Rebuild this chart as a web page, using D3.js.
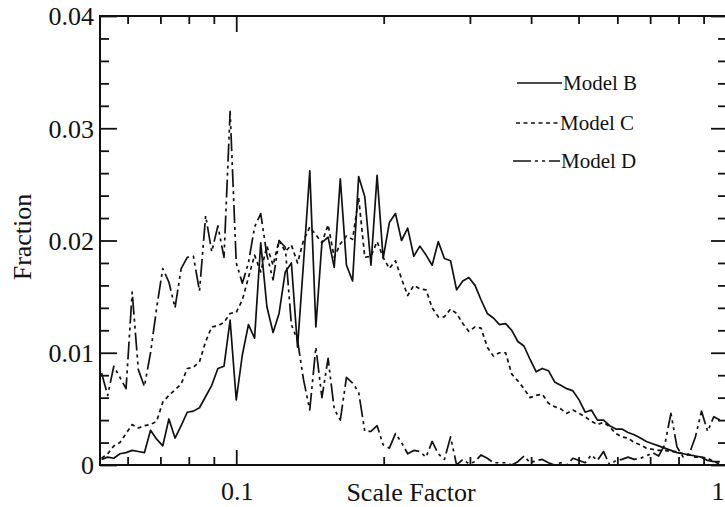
<!DOCTYPE html>
<html>
<head>
<meta charset="utf-8">
<script src="https://cdn.jsdelivr.net/npm/d3@7"></script>
<style>
  html, body { margin: 0; padding: 0; background: #fff; }
  svg { display: block; }
  text { font-family: "Liberation Serif", "Times New Roman", serif; fill: #111; }
</style>
</head>
<body>
<svg id="chart" width="725" height="507"></svg>
<script>
// Bin centres of the scale-factor histogram (log-spaced bins)
const scaleFactor = [
  0.05309, 0.05464, 0.05623, 0.05788, 0.05957, 0.06131,
  0.06310, 0.06494, 0.06684, 0.06879, 0.07079, 0.07286, 0.07499, 0.07718,
  0.07943, 0.08175, 0.08414, 0.08660, 0.08912, 0.09173, 0.09441, 0.09716,
  0.1000, 0.1029, 0.1059, 0.1090, 0.1122, 0.1155, 0.1189, 0.1223,
  0.1259, 0.1296, 0.1334, 0.1372, 0.1413, 0.1454, 0.1496, 0.1540,
  0.1585, 0.1631, 0.1679, 0.1728, 0.1778, 0.1830, 0.1884, 0.1939,
  0.1995, 0.2054, 0.2114, 0.2175, 0.2239, 0.2304, 0.2371, 0.2441,
  0.2512, 0.2585, 0.2661, 0.2739, 0.2818, 0.2901, 0.2985, 0.3073,
  0.3162, 0.3255, 0.3350, 0.3448, 0.3548, 0.3652, 0.3758, 0.3868,
  0.3981, 0.4097, 0.4217, 0.4340, 0.4467, 0.4597, 0.4732, 0.4870,
  0.5012, 0.5158, 0.5309, 0.5464, 0.5623, 0.5788, 0.5957, 0.6131,
  0.6310, 0.6494, 0.6684, 0.6879, 0.7079, 0.7286, 0.7499, 0.7718,
  0.7943, 0.8175, 0.8414, 0.8660, 0.8912, 0.9173, 0.9441, 0.9716
];

// Fraction of objects in each bin
const modelB = [
  0.0005, 0.0007, 0.0006, 0.0010, 0.0011, 0.0013, 0.0012, 0.0011, 0.0031, 0.0023,
  0.0017, 0.0041, 0.0024, 0.0035, 0.0047, 0.0048, 0.0051, 0.0061, 0.0071, 0.0086,
  0.0088, 0.0129, 0.0058, 0.0098, 0.0125, 0.0113, 0.0198, 0.0141, 0.0118, 0.0135,
  0.0172, 0.0180, 0.0105, 0.0180, 0.0262, 0.0123, 0.0198, 0.0203, 0.0176, 0.0255,
  0.0178, 0.0164, 0.0257, 0.0239, 0.0178, 0.0258, 0.0184, 0.0216, 0.0224, 0.0200,
  0.0211, 0.0186, 0.0195, 0.0187, 0.0178, 0.0199, 0.0184, 0.0182, 0.0156, 0.0164,
  0.0167, 0.0160, 0.0147, 0.0135, 0.0131, 0.0125, 0.0126, 0.0120, 0.0110, 0.0106,
  0.0094, 0.0083, 0.0086, 0.0084, 0.0074, 0.0071, 0.0068, 0.0066, 0.0058, 0.0047,
  0.0049, 0.0040, 0.0040, 0.0035, 0.0032, 0.0032, 0.0029, 0.0027, 0.0024, 0.0021,
  0.0019, 0.0017, 0.0015, 0.0013, 0.0011, 0.0010, 0.0009, 0.0008, 0.0007, 0.0004,
  0.0003, 0.0003
];

const modelC = [
  0.0006, 0.0010, 0.0017, 0.0020, 0.0028, 0.0036, 0.0033, 0.0035, 0.0036, 0.0039,
  0.0056, 0.0062, 0.0067, 0.0072, 0.0086, 0.0087, 0.0092, 0.0110, 0.0123, 0.0124,
  0.0127, 0.0135, 0.0136, 0.0147, 0.0167, 0.0187, 0.0172, 0.0195, 0.0178, 0.0200,
  0.0190, 0.0196, 0.0180, 0.0200, 0.0212, 0.0205, 0.0198, 0.0214, 0.0185, 0.0197,
  0.0204, 0.0201, 0.0238, 0.0185, 0.0186, 0.0199, 0.0185, 0.0175, 0.0182, 0.0166,
  0.0151, 0.0160, 0.0157, 0.0156, 0.0140, 0.0132, 0.0132, 0.0139, 0.0135, 0.0126,
  0.0119, 0.0123, 0.0122, 0.0105, 0.0097, 0.0100, 0.0100, 0.0081, 0.0075, 0.0068,
  0.0060, 0.0062, 0.0063, 0.0055, 0.0052, 0.0050, 0.0046, 0.0049, 0.0046, 0.0043,
  0.0039, 0.0036, 0.0038, 0.0034, 0.0028, 0.0025, 0.0024, 0.0020, 0.0018, 0.0015,
  0.0014, 0.0013, 0.0013, 0.0012, 0.0012, 0.0010, 0.0009, 0.0007, 0.0007, 0.0006,
  0.0003, 0.0001
];

const modelD = [
  0.0082, 0.0062, 0.0088, 0.0078, 0.0068, 0.0154, 0.0085, 0.0070, 0.0100, 0.0140,
  0.0175, 0.0163, 0.0140, 0.0175, 0.0185, 0.0186, 0.0155, 0.0222, 0.0190, 0.0213,
  0.0185, 0.0315, 0.0180, 0.0162, 0.0180, 0.0212, 0.0224, 0.0187, 0.0165, 0.0200,
  0.0194, 0.0125, 0.0111, 0.0076, 0.0049, 0.0105, 0.0060, 0.0095, 0.0050, 0.0040,
  0.0078, 0.0073, 0.0065, 0.0030, 0.0030, 0.0035, 0.0018, 0.0015, 0.0028, 0.0020,
  0.0010, 0.0013, 0.0012, 0.0007, 0.0021, 0.0010, 0.0005, 0.0025, 0.0000, 0.0005,
  0.0001, 0.0003, 0.0009, 0.0006, 0.0002, 0.0002, 0.0002, 0.0000, 0.0003, 0.0008,
  0.0002, 0.0004, 0.0005, 0.0002, 0.0000, 0.0002, 0.0000, 0.0006, 0.0004, 0.0002,
  0.0009, 0.0004, 0.0012, 0.0000, 0.0004, 0.0005, 0.0007, 0.0005, 0.0006, 0.0008,
  0.0011, 0.0008, 0.0018, 0.0046, 0.0016, 0.0007, 0.0010, 0.0025, 0.0048, 0.0030,
  0.0043, 0.0040
];

const seriesNames = ["Model B", "Model C", "Model D"];

const xMajorTicks = [0.1, 1];
const xTickLabels = ["0.1", "1"];
const xMinorTicks = [0.06, 0.07, 0.08, 0.09, 0.2, 0.3, 0.4, 0.5, 0.6, 0.7, 0.8, 0.9];
const yMajorTicks = [0, 0.01, 0.02, 0.03, 0.04];
const yTickLabels = ["0", "0.01", "0.02", "0.03", "0.04"];
const yMinorTicks = [0.002, 0.004, 0.006, 0.008, 0.012, 0.014, 0.016, 0.018,
                     0.022, 0.024, 0.026, 0.028, 0.032, 0.034, 0.036, 0.038];

// Plot frame
const plotLeft = 100, plotRight = 726, plotTop = 16, plotBottom = 465;
const ink = "#111";
const width = 725;

const svg = d3.select("#chart");

const x = d3.scaleLog().domain([0.0527, 1]).range([plotLeft, plotRight]);
const y = d3.scaleLinear().domain([0, 0.04]).range([plotBottom, plotTop]);

// Inward-pointing ticks on all four sides
function tickAxis(axis, values, size, transform) {
  const g = svg.append("g")
    .attr("transform", transform)
    .call(axis.tickValues(values).tickSize(-size).tickFormat(""));
  g.select(".domain").remove();
  g.selectAll(".tick line").attr("stroke", ink).attr("stroke-width", 1.8);
  return g;
}
tickAxis(d3.axisBottom(x), xMajorTicks, 15, `translate(0,${plotBottom})`);
tickAxis(d3.axisBottom(x), xMinorTicks, 8, `translate(0,${plotBottom})`);
tickAxis(d3.axisTop(x), xMajorTicks, 16, `translate(0,${plotTop})`);
tickAxis(d3.axisTop(x), xMinorTicks, 8, `translate(0,${plotTop})`);
tickAxis(d3.axisLeft(y), yMajorTicks, 17, `translate(${plotLeft},0)`);
tickAxis(d3.axisLeft(y), yMinorTicks, 9, `translate(${plotLeft},0)`);
tickAxis(d3.axisRight(y), yMajorTicks, 15, `translate(${plotRight},0)`);
tickAxis(d3.axisRight(y), yMinorTicks, 8, `translate(${plotRight},0)`);

svg.append("rect")
  .attr("x", plotLeft).attr("y", plotTop)
  .attr("width", plotRight - plotLeft).attr("height", plotBottom - plotTop)
  .attr("fill", "none").attr("stroke", ink).attr("stroke-width", 2);

// Tick labels
svg.append("g").selectAll("text")
  .data(yMajorTicks)
  .join("text")
  .attr("x", plotLeft - 6)
  .attr("y", d => y(d))
  .attr("dy", "0.36em")
  .attr("text-anchor", "end")
  .attr("font-size", 26)
  .text((d, i) => yTickLabels[i]);

svg.append("g").selectAll("text")
  .data(xMajorTicks)
  .join("text")
  .attr("x", d => Math.min(x(d) + 1, width - 7))
  .attr("y", 500)
  .attr("text-anchor", "middle")
  .attr("font-size", 26)
  .text((d, i) => xTickLabels[i]);

// Axis titles
svg.append("text")
  .attr("x", 411).attr("y", 501)
  .attr("text-anchor", "middle")
  .attr("font-size", 26)
  .text("Scale Factor");

svg.append("text")
  .attr("transform", "translate(31,237) rotate(-90)")
  .attr("text-anchor", "middle")
  .attr("font-size", 26)
  .text("Fraction");

// Curves
const series = [
  { name: seriesNames[0], values: modelB, dash: null },
  { name: seriesNames[1], values: modelC, dash: "4,3.5" },
  { name: seriesNames[2], values: modelD, dash: "18,4,3,4,3,4" }
];

const line = d3.line()
  .x((d, i) => x(scaleFactor[i]))
  .y(d => y(d));

svg.append("clipPath").attr("id", "plot-clip")
  .append("rect").attr("x", plotLeft).attr("y", plotTop)
  .attr("width", plotRight - plotLeft).attr("height", plotBottom - plotTop);

svg.append("g").attr("clip-path", "url(#plot-clip)")
  .selectAll("path")
  .data(series)
  .join("path")
  .attr("d", d => line(d.values))
  .attr("fill", "none")
  .attr("stroke", ink)
  .attr("stroke-width", 1.7)
  .attr("stroke-linejoin", "round")
  .attr("stroke-dasharray", d => d.dash);

// Legend
const legendRows = [
  { y: 83, x0: 517, x1: 562, baseline: 90 },
  { y: 123, x0: 516, x1: 559, baseline: 130 },
  { y: 161, x0: 513, x1: 560, baseline: 168 }
];
const legend = svg.append("g");
series.forEach((s, i) => {
  const r = legendRows[i];
  legend.append("line")
    .attr("x1", r.x0).attr("x2", r.x1)
    .attr("y1", r.y).attr("y2", r.y)
    .attr("stroke", ink).attr("stroke-width", 1.5)
    .attr("stroke-dasharray", s.dash);
  legend.append("text")
    .attr("x", r.x1 + 1).attr("y", r.baseline)
    .attr("font-size", 21)
    .text(s.name);
});
</script>
</body>
</html>
